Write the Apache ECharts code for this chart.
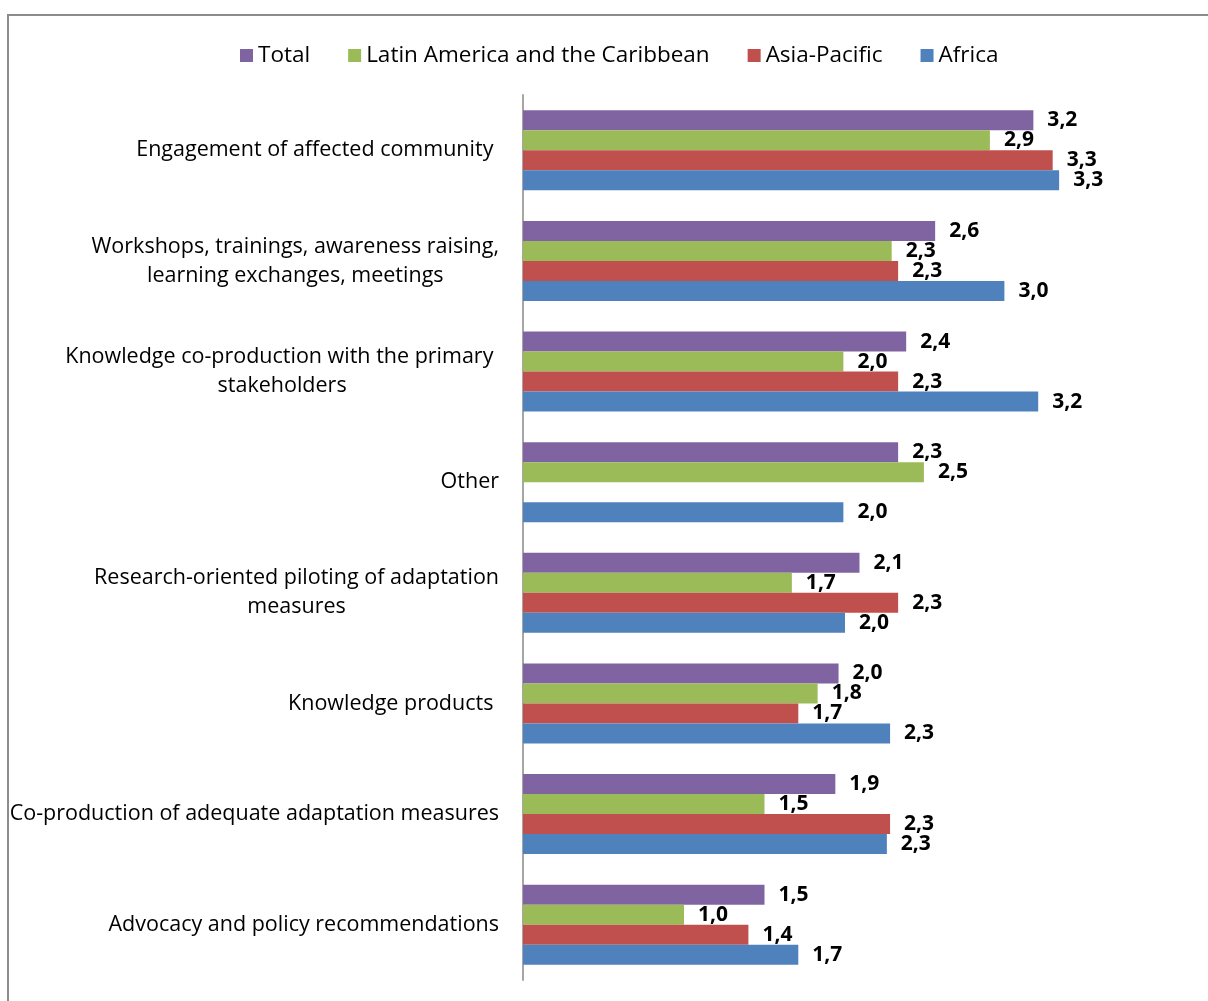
<!DOCTYPE html>
<html>
<head>
<meta charset="utf-8">
<script src="https://cdn.jsdelivr.net/npm/echarts@6/dist/echarts.min.js"></script>
<style>
  html, body { margin: 0; padding: 0; background: #ffffff; }
  #chart { width: 1208px; height: 1001px; }
</style>
</head>
<body>
<div id="chart"></div>
<script>
const categories = [
  "Engagement of affected community ",
  "Workshops, trainings, awareness raising,\nlearning exchanges, meetings",
  "Knowledge co-production with the primary \nstakeholders",
  "Other",
  "Research-oriented piloting of adaptation\nmeasures",
  "Knowledge products ",
  "Co-production of adequate adaptation measures",
  "Advocacy and policy recommendations"
];
const seriesNames = ["Total", "Latin America and the Caribbean", "Asia-Pacific", "Africa"];
const totalValues  = [3.17, 2.56, 2.38, 2.33, 2.09, 1.96, 1.94, 1.50];
const lacValues    = [2.90, 2.29, 1.99, 2.49, 1.67, 1.83, 1.50, 1.00];
const apValues     = [3.29, 2.33, 2.33, null, 2.33, 1.71, 2.28, 1.40];
const africaValues = [3.33, 2.99, 3.20, 1.99, 2.00, 2.28, 2.26, 1.71];
const colors = ["#8064A2", "#9BBB59", "#C0504D", "#4F81BD"];

const FONT = "'Open Sans', Lato, sans-serif";
const chart = echarts.init(document.getElementById('chart'), null, { renderer: 'canvas' });

function makeSeries(name, data, color) {
  return {
    name: name,
    type: 'bar',
    data: data,
    barWidth: 20,
    barGap: '0%',
    itemStyle: { color: color },
    label: {
      show: true,
      position: 'right',
      distance: 14,
      color: '#000',
      fontFamily: FONT,
      fontWeight: 'bold',
      fontSize: 21,
      formatter: p => (p.value == null ? '' : Number(p.value).toFixed(1).replace('.', ','))
    }
  };
}

const allValues = [totalValues, lacValues, apValues, africaValues];

chart.setOption({
  animation: false,
  backgroundColor: '#ffffff',
  graphic: [{
    type: 'rect',
    shape: { x: 8, y: 15, width: 1400, height: 1200 },
    style: { fill: 'none', stroke: '#8c8c8c', lineWidth: 2 },
    silent: true
  }],
  legend: {
    left: 235,
    top: 39,
    icon: 'rect',
    itemWidth: 13,
    itemHeight: 13,
    itemGap: 38,
    textStyle: { fontFamily: FONT, fontSize: 22.5, color: '#000' },
    data: seriesNames
  },
  grid: {
    left: 523,
    right: 121.5,
    top: 95,
    bottom: 21,
    containLabel: false,
    outerBoundsMode: 'none'
  },
  xAxis: {
    type: 'value',
    min: 0,
    max: 3.5,
    show: false
  },
  yAxis: {
    type: 'category',
    inverse: true,
    data: categories,
    axisLine: { show: true, lineStyle: { color: '#a6a6a6', width: 2 } },
    axisTick: { show: false },
    axisLabel: {
      margin: 24,
      align: 'right',
      fontFamily: FONT,
      fontSize: 21.5,
      color: '#000',
      lineHeight: 29,
      formatter: v => v.split('\n').map(l => '{c|' + l + '}').join('\n'),
      rich: {
        c: { align: 'center', fontFamily: FONT, fontSize: 21.5, color: '#000', lineHeight: 29 }
      }
    }
  },
  series: seriesNames.map((n, i) => makeSeries(n, allValues[i], colors[i]))
});
</script>
</body>
</html>
